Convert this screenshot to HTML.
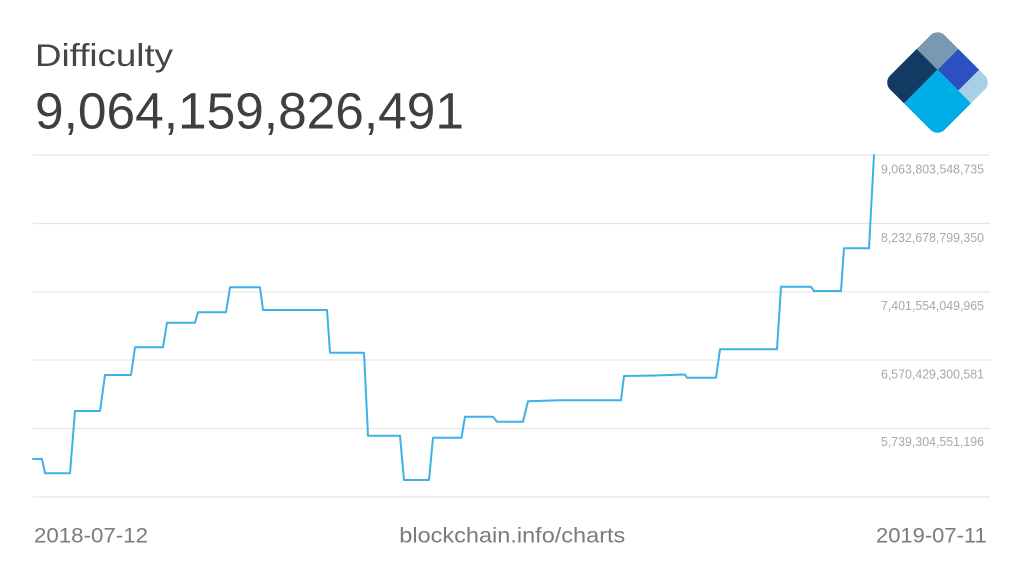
<!DOCTYPE html>
<html>
<head>
<meta charset="utf-8">
<style>
  html, body { margin: 0; padding: 0; background: #ffffff; }
  svg { display: block; }
  text { font-family: "Liberation Sans", sans-serif; }
</style>
</head>
<body>
<svg width="1024" height="575" viewBox="0 0 1024 575" xmlns="http://www.w3.org/2000/svg">
  <rect x="0" y="0" width="1024" height="575" fill="#ffffff"/>

  <!-- Title -->
  <text x="35" y="66" font-size="31.5" fill="#454545" textLength="138" lengthAdjust="spacingAndGlyphs">Difficulty</text>
  <text x="35" y="128.5" font-size="51" fill="#3f3f3f" textLength="429" lengthAdjust="spacingAndGlyphs">9,064,159,826,491</text>

  <!-- Logo -->
  <defs>
    <clipPath id="dia">
      <rect x="-38.5" y="-38.5" width="77" height="77" rx="10" ry="10"/>
    </clipPath>
  </defs>
  <g transform="translate(937.5,82.5) rotate(45)">
    <g clip-path="url(#dia)">
      <rect x="-38.5" y="-38.5" width="29.5" height="29.5" fill="#7899b1"/>
      <rect x="-38.5" y="-9" width="29.5" height="47.5" fill="#133a63"/>
      <rect x="-9" y="-38.5" width="29.5" height="29.5" fill="#2b50c1"/>
      <rect x="20.5" y="-38.5" width="18" height="29.5" fill="#a8d0e4"/>
      <rect x="-9" y="-9" width="47.5" height="47.5" fill="#00ade6"/>
    </g>
  </g>

  <!-- Gridlines -->
  <g stroke="#e6e6e6" stroke-width="1.2">
    <line x1="33" y1="155" x2="990" y2="155"/>
    <line x1="33" y1="223.5" x2="990" y2="223.5"/>
    <line x1="33" y1="292" x2="990" y2="292"/>
    <line x1="33" y1="360" x2="990" y2="360"/>
    <line x1="33" y1="428.5" x2="990" y2="428.5"/>
    <line x1="33" y1="497" x2="990" y2="497"/>
  </g>

  <!-- Y labels -->
  <g font-size="12.5" fill="#a8a8a8">
    <text x="881" y="173.5" textLength="103" lengthAdjust="spacingAndGlyphs">9,063,803,548,735</text>
    <text x="881" y="241.8" textLength="103" lengthAdjust="spacingAndGlyphs">8,232,678,799,350</text>
    <text x="881" y="310" textLength="103" lengthAdjust="spacingAndGlyphs">7,401,554,049,965</text>
    <text x="881" y="378.3" textLength="103" lengthAdjust="spacingAndGlyphs">6,570,429,300,581</text>
    <text x="881" y="446.2" textLength="103" lengthAdjust="spacingAndGlyphs">5,739,304,551,196</text>
  </g>

  <!-- Series -->
  <polyline fill="none" stroke="#3cb2e6" stroke-width="2" stroke-linejoin="round" stroke-linecap="round"
    points="33,459 42,459 45,473.3 70,473.3 75,411 100,411 105,375 131,375 135,347.3 163,347.3 167,322.7 195,322.7 198,312.3 226,312.3 230,287.3 260,287.3 263,310 327,310 330,352.7 364,352.7 368,435.7 400,435.7 404,480 429,480 433,437.7 461.5,437.7 465,416.7 493,416.7 497,421.7 523,421.7 528,401.3 560,400.3 621,400.3 624,376 655,375.5 685,374.5 687,377.7 716,377.7 720,349.3 777,349.3 781,286.7 811,286.7 814,291 841,291 844,248.3 869,248.3 874,155"/>

  <!-- Bottom labels -->
  <g font-size="21.5" fill="#7b7b7b">
    <text x="34" y="542.3" textLength="114" lengthAdjust="spacingAndGlyphs">2018-07-12</text>
    <text x="399.3" y="542.3" textLength="226" lengthAdjust="spacingAndGlyphs">blockchain.info/charts</text>
    <text x="876" y="542.5" textLength="110.7" lengthAdjust="spacingAndGlyphs">2019-07-11</text>
  </g>
</svg>
</body>
</html>
